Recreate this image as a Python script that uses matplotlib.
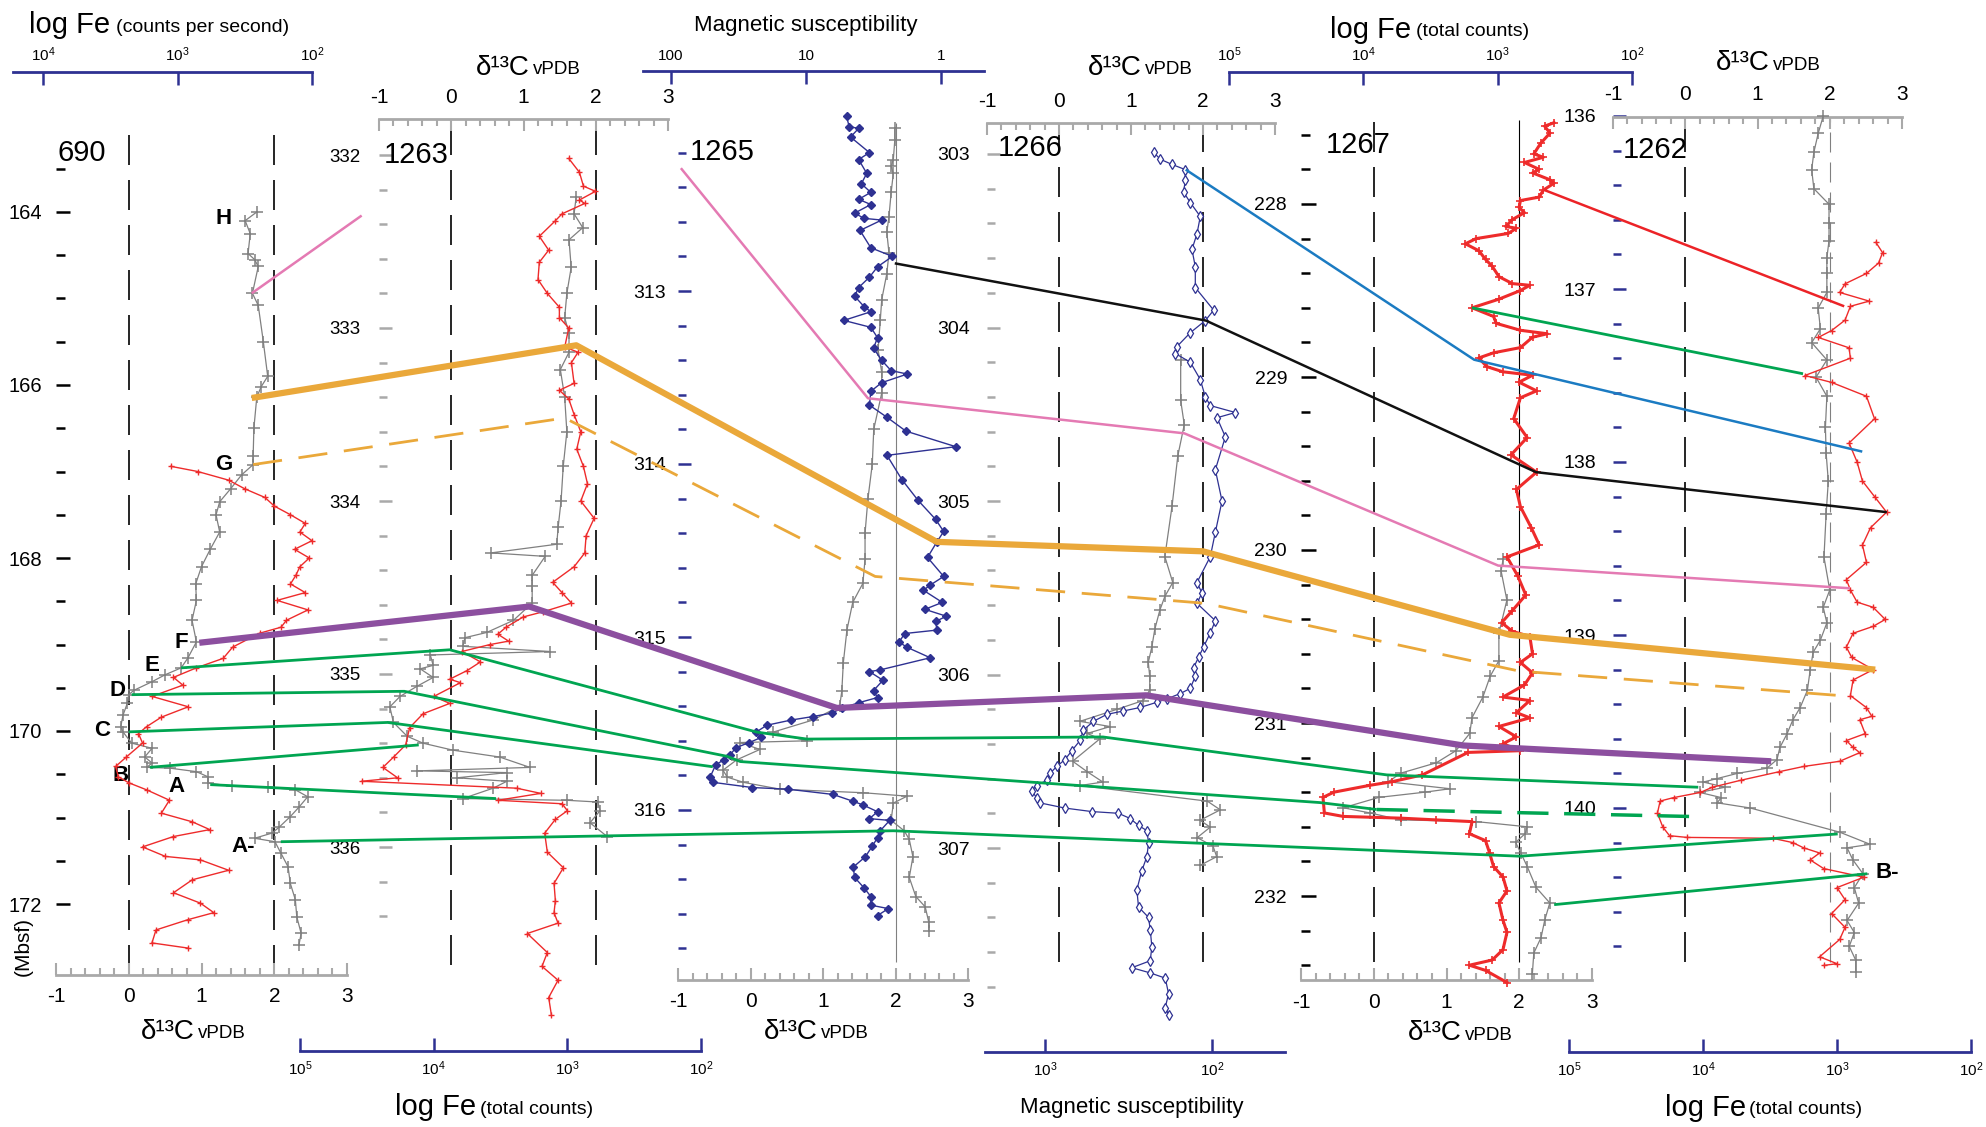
import numpy as np
import matplotlib
matplotlib.use("Agg")
import matplotlib.pyplot as plt
from matplotlib.ticker import FixedLocator, NullLocator, FuncFormatter

plt.rcParams['font.family'] = ['Liberation Sans Narrow', 'Liberation Sans', 'DejaVu Sans']
plt.rcParams['mathtext.fontset'] = 'custom'
plt.rcParams['mathtext.rm'] = 'Liberation Sans'
plt.rcParams['mathtext.it'] = 'Liberation Sans:italic'
plt.rcParams['mathtext.bf'] = 'Liberation Sans:bold'

# ---------------- data (depth in mbsf, d13C in permil vPDB, proxies as log10) ----------------
# Site 690
d690_c = [164.0, 164.1, 164.25, 164.48, 164.55, 164.63, 164.94, 165.08, 165.5, 165.9, 166.02, 166.14,
          166.5, 166.82, 166.92, 167.04, 167.2, 167.35, 167.5, 167.7, 167.9, 168.1, 168.3, 168.49,
          168.72, 168.97, 169.16, 169.27, 169.35, 169.43, 169.53, 169.58, 169.68, 169.82, 169.95,
          170.01, 170.14, 170.2, 170.3, 170.37, 170.42, 170.43, 170.47, 170.53, 170.6, 170.64, 170.65,
          170.68, 170.76, 170.88, 170.99, 171.11, 171.18, 171.24, 171.28, 171.41, 171.57, 171.76,
          171.95, 172.15, 172.34, 172.47]
c690 = [1.76, 1.60, 1.67, 1.64, 1.73, 1.78, 1.70, 1.78, 1.85, 1.91, 1.82, 1.76,
        1.72, 1.71, 1.71, 1.55, 1.40, 1.25, 1.20, 1.25, 1.12, 1.00, 0.92, 0.93,
        0.87, 0.93, 0.81, 0.72, 0.50, 0.32, 0.07, 0.00, -0.02, -0.08, -0.11,
        -0.08, 0.04, 0.32, 0.22, 0.32, 0.25, 0.57, 0.93, 1.09, 1.09, 1.42, 1.91,
        2.29, 2.46, 2.34, 2.22, 2.07, 1.97, 1.73, 2.01, 2.09, 2.19, 2.22,
        2.29, 2.31, 2.37, 2.34]
d690_fe = [166.94, 167.0, 167.1, 167.2, 167.3, 167.4, 167.5, 167.6, 167.7, 167.8, 167.9, 168.0,
           168.1, 168.2, 168.3, 168.4, 168.49, 168.6, 168.72, 168.8, 168.87, 169.03, 169.16, 169.27,
           169.38, 169.47, 169.6, 169.72, 169.84, 169.95, 170.03, 170.14, 170.3, 170.41, 170.53,
           170.6, 170.68, 170.8, 170.95, 171.05, 171.14, 171.22, 171.34, 171.45, 171.49, 171.61,
           171.72, 171.87, 171.99, 172.1, 172.18, 172.3, 172.45, 172.51]
fe690 = [3.05, 2.85, 2.62, 2.50, 2.35, 2.28, 2.16, 2.05, 2.09, 2.00, 2.13, 2.02,
         2.09, 2.12, 2.16, 2.05, 2.26, 2.03, 2.19, 2.23, 2.39, 2.59, 2.66, 2.86,
         3.03, 2.96, 3.19, 2.92, 3.12, 3.23, 3.29, 3.26, 3.38, 3.46, 3.44,
         3.36, 3.23, 3.06, 3.12, 2.89, 2.76, 3.03, 3.26, 3.09, 2.83, 2.62,
         2.89, 3.03, 2.83, 2.73, 2.92, 3.16, 3.19, 2.92]

# Site 1263
d1263_c = [332.24, 332.34, 332.42, 332.49, 332.65, 332.8, 332.94, 333.03, 333.14, 333.24, 333.4,
           333.6, 333.8, 334.0, 334.15, 334.25, 334.3, 334.32, 334.43, 334.49, 334.59, 334.69,
           334.76, 334.79, 334.84, 334.87, 334.89, 334.95, 334.97, 335.02, 335.07, 335.13, 335.19,
           335.28, 335.36, 335.4, 335.44, 335.48, 335.54, 335.56, 335.57, 335.6, 335.62, 335.66,
           335.72, 335.73, 335.74, 335.79, 335.86, 335.94]
c1263 = [1.73, 1.70, 1.82, 1.63, 1.66, 1.60, 1.57, 1.63, 1.63, 1.51, 1.57,
         1.60, 1.55, 1.52, 1.48, 1.46, 0.55, 1.30, 1.12, 1.12, 1.12, 0.86,
         0.49, 0.19, 0.16, 1.37, -0.29, -0.25, -0.43, -0.25, -0.47, -0.71, -0.85,
         -0.80, -0.61, -0.39, 0.02, 0.67, 1.09, -0.47, 0.77, 0.08, 0.77, 0.58,
         0.16, 1.60, 2.03, 2.06, 1.92, 2.16]
d1263_fe = [332.02, 332.1, 332.18, 332.21, 332.26, 332.28, 332.34, 332.38, 332.47, 332.55, 332.62,
            332.72, 332.8, 332.88, 332.94, 333.0, 333.11, 333.14, 333.2, 333.32, 333.36, 333.41,
            333.5, 333.6, 333.7, 333.8, 333.9, 334.0, 334.1, 334.2, 334.3, 334.38, 334.47, 334.53,
            334.59, 334.64, 334.67, 334.73, 334.77, 334.81, 334.83, 334.87, 334.93, 334.98, 335.03,
            335.05, 335.13, 335.17, 335.23, 335.31, 335.41, 335.48, 335.54, 335.6, 335.62, 335.66,
            335.69, 335.73, 335.75, 335.79, 335.84, 335.92, 336.03, 336.12, 336.21, 336.31, 336.38,
            336.44, 336.5, 336.61, 336.69, 336.77, 336.87, 336.97]
fe1263 = [2.99, 2.91, 2.88, 2.79, 2.91, 2.87, 3.04, 3.09, 3.21, 3.14, 3.21,
          3.22, 3.15, 3.06, 3.06, 2.99, 3.02, 2.92, 2.97, 2.95, 3.06, 2.99,
          2.95, 2.90, 2.93, 2.88, 2.85, 2.90, 2.80, 2.86, 2.87, 2.95, 3.11, 3.04,
          2.97, 3.18, 3.33, 3.46, 3.52, 3.44, 3.58, 3.79, 3.65, 3.75, 3.88,
          3.80, 4.00, 3.88, 4.08, 4.18, 4.21, 4.30, 4.38, 4.27, 4.54, 3.38,
          3.20, 3.52, 3.04, 3.00, 3.09, 3.17, 3.15, 3.03, 3.10, 3.09, 3.10,
          3.07, 3.30, 3.15, 3.19, 3.07, 3.14, 3.12]

# Site 1265
d1265_c = [312.06, 312.13, 312.24, 312.28, 312.32, 312.43, 312.57, 312.66, 312.78, 312.9, 313.05,
           313.17, 313.34, 313.47, 313.59, 313.8, 314.0, 314.2, 314.4, 314.55, 314.69, 314.8,
           314.96, 315.15, 315.31, 315.4, 315.48, 315.55, 315.6, 315.61, 315.65, 315.71, 315.77,
           315.81, 315.84, 315.88, 315.9, 315.92, 315.96, 316.06, 316.12, 316.17, 316.27, 316.39,
           316.5, 316.56, 316.65, 316.7]
c1265 = [1.99, 1.99, 1.97, 1.94, 1.97, 1.94, 1.91, 1.88, 1.91, 1.88, 1.81,
         1.79, 1.76, 1.81, 1.81, 1.70, 1.68, 1.62, 1.58, 1.58, 1.55, 1.41,
         1.33, 1.28, 1.26, 1.23, 0.86, 0.31, 0.78, -0.14, 0.13, -0.19, -0.38,
         -0.32, -0.10, 0.41, 1.55, 2.16, 1.97, 1.94, 2.12, 2.19, 2.24, 2.19,
         2.28, 2.41, 2.46, 2.46]
d1265_ms = [311.99, 312.05, 312.06, 312.11, 312.2, 312.24, 312.32, 312.38, 312.43, 312.47, 312.5,
            312.55, 312.58, 312.59, 312.65, 312.75, 312.8, 312.86, 312.92, 312.98, 313.03, 313.09,
            313.12, 313.17, 313.21, 313.27, 313.33, 313.4, 313.46, 313.48, 313.53, 313.58, 313.66,
            313.73, 313.81, 313.9, 313.95, 314.09, 314.21, 314.32, 314.39, 314.45, 314.54, 314.65,
            314.7, 314.73, 314.8, 314.84, 314.88, 314.91, 314.96, 314.98, 315.03, 315.06, 315.12,
            315.19, 315.2, 315.25, 315.31, 315.35, 315.38, 315.41, 315.44, 315.46, 315.48, 315.51,
            315.55, 315.58, 315.61, 315.64, 315.68, 315.71, 315.74, 315.81, 315.84, 315.87, 315.88,
            315.91, 315.95, 315.97, 316.01, 316.05, 316.06, 316.12, 316.16, 316.21, 316.27, 316.33,
            316.39, 316.45, 316.5, 316.55, 316.57, 316.61]
ms1265 = [0.70, 0.68, 0.61, 0.67, 0.53, 0.61, 0.55, 0.59, 0.52, 0.61, 0.52,
          0.64, 0.57, 0.44, 0.60, 0.52, 0.36, 0.47, 0.53, 0.61, 0.64, 0.57,
          0.52, 0.72, 0.52, 0.47, 0.50, 0.44, 0.37, 0.25, 0.44, 0.52, 0.53,
          0.40, 0.26, -0.11, 0.40, 0.29, 0.17, 0.04, -0.02, 0.03, 0.10, -0.02,
          0.08, 0.13, -0.01, 0.12, -0.04, 0.04, 0.03, 0.27, 0.31, 0.25, 0.08,
          0.45, 0.53, 0.43, 0.50, 0.47, 0.61, 0.73, 0.81, 0.95, 1.11, 1.29,
          1.37, 1.33, 1.42, 1.52, 1.56, 1.61, 1.67, 1.71, 1.69, 1.40, 1.13,
          0.80, 0.65, 0.58, 0.47, 0.53, 0.38, 0.45, 0.47, 0.51, 0.56, 0.65,
          0.64, 0.57, 0.52, 0.52, 0.39, 0.47]

# Site 1266
d1266_c = [304.19, 304.42, 304.56, 304.74, 305.03, 305.32, 305.47, 305.55, 305.63, 305.74, 305.84,
           305.93, 306.01, 306.09, 306.15, 306.2, 306.27, 306.3, 306.34, 306.37, 306.5, 306.56,
           306.62, 306.64, 306.73, 306.78, 306.84, 306.88, 306.94, 306.99, 307.05, 307.1]
c1266 = [1.69, 1.69, 1.74, 1.65, 1.57, 1.47, 1.58, 1.47, 1.40, 1.33, 1.29,
         1.24, 1.26, 1.26, 1.17, 0.81, 0.29, 0.71, 0.39, 0.57, 0.19, 0.39,
         0.61, 0.29, 2.06, 2.24, 1.96, 2.10, 1.92, 2.14, 2.19, 1.96]
d1266_ms = [302.99, 303.03, 303.06, 303.09, 303.15, 303.22, 303.28, 303.36, 303.46, 303.55, 303.65,
            303.77, 303.9, 303.96, 304.03, 304.11, 304.15, 304.2, 304.3, 304.4, 304.45, 304.49,
            304.52, 304.63, 304.82, 305.0, 305.18, 305.32, 305.47, 305.53, 305.59, 305.69, 305.76,
            305.84, 305.9, 305.96, 306.01, 306.08, 306.11, 306.14, 306.16, 306.19, 306.21, 306.23,
            306.27, 306.32, 306.38, 306.44, 306.49, 306.53, 306.57, 306.61, 306.64, 306.67, 306.71,
            306.74, 306.77, 306.79, 306.8, 306.83, 306.87, 306.9, 306.97, 307.05, 307.13, 307.24,
            307.34, 307.4, 307.47, 307.57, 307.65, 307.69, 307.72, 307.75, 307.84, 307.92, 307.96]
ms1266 = [2.35, 2.31, 2.24, 2.16, 2.16, 2.17, 2.13, 2.07, 2.09, 2.12, 2.10,
          2.10, 1.99, 2.04, 2.13, 2.21, 2.22, 2.13, 2.07, 2.04, 2.01, 1.86,
          1.97, 1.92, 1.98, 1.94, 1.98, 2.01, 2.09, 2.06, 2.09, 1.98, 2.01,
          2.05, 2.08, 2.11, 2.10, 2.13, 2.19, 2.27, 2.33, 2.43, 2.53, 2.63,
          2.71, 2.77, 2.79, 2.84, 2.88, 2.93, 2.97, 2.99, 3.05, 3.08, 3.05,
          3.03, 2.88, 2.72, 2.56, 2.49, 2.44, 2.39, 2.38, 2.39, 2.42, 2.45,
          2.44, 2.38, 2.37, 2.36, 2.37, 2.48, 2.37, 2.28, 2.26, 2.28, 2.26]

# Site 1267
d1267_c = [230.05, 230.12, 230.29, 230.48, 230.64, 230.73, 230.85, 230.97, 231.06, 231.16, 231.23,
           231.29, 231.34, 231.38, 231.4, 231.43, 231.49, 231.52, 231.56, 231.57, 231.6, 231.64,
           231.69, 231.75, 231.83, 231.95, 232.04, 232.14, 232.24, 232.33, 232.45]
c1267 = [1.78, 1.75, 1.83, 1.72, 1.72, 1.60, 1.50, 1.35, 1.32, 1.13, 0.86,
         0.37, 0.20, 1.05, 0.70, 0.07, -0.42, -0.05, 0.37, 1.41, 2.11, 2.08,
         1.95, 2.02, 2.11, 2.23, 2.42, 2.35, 2.30, 2.20, 2.18]
d1267_fe = [227.53, 227.55, 227.59, 227.65, 227.71, 227.73, 227.76, 227.8, 227.82, 227.86, 227.88,
            227.92, 227.96, 227.98, 228.02, 228.05, 228.09, 228.13, 228.14, 228.17, 228.2, 228.23,
            228.27, 228.32, 228.36, 228.42, 228.46, 228.47, 228.5, 228.55, 228.6, 228.65, 228.69,
            228.73, 228.75, 228.77, 228.83, 228.86, 228.89, 228.94, 228.97, 228.99, 229.03, 229.08,
            229.12, 229.24, 229.35, 229.45, 229.55, 229.65, 229.75, 229.87, 229.97, 230.04, 230.15,
            230.26, 230.35, 230.42, 230.47, 230.5, 230.6, 230.65, 230.71, 230.78, 230.85, 230.87,
            230.94, 230.97, 231.02, 231.08, 231.12, 231.16, 231.17, 231.3, 231.34, 231.36, 231.4,
            231.43, 231.52, 231.54, 231.55, 231.56, 231.57, 231.64, 231.68, 231.75, 231.83, 231.89,
            231.97, 232.04, 232.14, 232.21, 232.31, 232.37, 232.4, 232.43, 232.5]
fe1267 = [2.58, 2.65, 2.61, 2.68, 2.73, 2.66, 2.80, 2.69, 2.74, 2.61, 2.58,
          2.66, 2.69, 2.83, 2.84, 2.80, 2.89, 2.94, 2.86, 2.92, 3.16, 3.24,
          3.14, 3.09, 3.04, 2.99, 2.89, 2.76, 2.83, 2.99, 3.19, 3.03, 3.01,
          2.83, 2.63, 2.74, 2.83, 3.03, 3.14, 3.08, 2.96, 2.74, 2.84, 2.71,
          2.83, 2.88, 2.78, 2.90, 2.71, 2.86, 2.83, 2.75, 2.69, 2.93, 2.85,
          2.79, 2.89, 2.97, 2.89, 2.76, 2.74, 2.83, 2.74, 2.80, 2.96, 2.76,
          2.86, 2.76, 2.99, 2.86, 2.96, 2.83, 3.22, 3.56, 3.79, 3.95, 4.22,
          4.30, 4.29, 4.15, 3.72, 3.46, 3.19, 3.21, 3.09, 3.06, 3.03, 2.96,
          2.93, 2.99, 2.96, 2.93, 2.96, 3.04, 3.21, 3.09, 2.93]

# Site 1262
d1262_c = [136.0, 136.1, 136.21, 136.31, 136.42, 136.51, 136.62, 136.72, 136.82, 136.91, 137.02,
           137.11, 137.23, 137.31, 137.41, 137.51, 137.62, 137.8, 137.95, 138.11, 138.3, 138.55,
           138.74, 138.84, 138.93, 139.03, 139.1, 139.2, 139.32, 139.42, 139.49, 139.57, 139.65,
           139.72, 139.77, 139.8, 139.83, 139.85, 139.88, 139.91, 139.94, 139.97, 140.0, 140.14,
           140.21, 140.23, 140.3, 140.38, 140.46, 140.55, 140.65, 140.72, 140.8, 140.88, 140.95]
c1262 = [1.91, 1.84, 1.78, 1.75, 1.78, 1.99, 1.99, 1.99, 1.96, 1.96, 1.96,
         1.84, 1.87, 1.75, 1.96, 1.81, 1.96, 1.94, 1.95, 1.98, 1.95, 1.92,
         2.00, 1.91, 1.96, 1.87, 1.77, 1.73, 1.69, 1.59, 1.49, 1.41, 1.31,
         1.27, 1.13, 0.72, 0.44, 0.25, 0.55, 0.20, 0.50, 0.44, 0.90, 2.14,
         2.56, 2.24, 2.32, 2.46, 2.34, 2.40, 2.24, 2.34, 2.27, 2.36, 2.36]
d1262_fe = [136.73, 136.79, 136.85, 136.91, 136.97, 137.02, 137.07, 137.1, 137.18, 137.24, 137.28,
            137.34, 137.4, 137.5, 137.54, 137.62, 137.75, 137.89, 138.0, 138.11, 138.2, 138.29,
            138.38, 138.48, 138.58, 138.68, 138.74, 138.81, 138.84, 138.91, 138.95, 138.99, 139.07,
            139.13, 139.2, 139.26, 139.35, 139.42, 139.47, 139.49, 139.57, 139.61, 139.65, 139.68,
            139.73, 139.76, 139.79, 139.84, 139.88, 139.91, 139.94, 139.96, 140.03, 140.11, 140.16,
            140.17, 140.175, 140.2, 140.23, 140.26, 140.3, 140.35, 140.4, 140.46, 140.53, 140.61,
            140.69, 140.76, 140.86, 140.9, 140.91]
fe1262 = [2.71, 2.66, 2.69, 2.78, 2.94, 2.98, 2.76, 2.90, 2.94, 3.04, 3.14,
          2.91, 2.90, 3.24, 3.04, 2.78, 2.72, 2.91, 2.85, 2.81, 2.72, 2.63,
          2.75, 2.81, 2.78, 2.93, 2.90, 2.85, 2.73, 2.64, 2.73, 2.88, 2.93,
          2.89, 2.73, 2.88, 2.90, 2.78, 2.74, 2.83, 2.79, 2.93, 2.88, 2.83,
          2.98, 3.25, 3.43, 3.72, 3.93, 4.02, 4.22, 4.32, 4.34, 4.30, 4.25,
          4.12, 3.48, 3.33, 3.25, 3.13, 3.20, 3.10, 2.80, 3.00, 2.94, 3.04,
          2.94, 2.98, 3.13, 3.00, 3.10]

# depth tick marks (labelled / unlabelled)
dlab690 = [164, 166, 168, 170, 172]
dlab1263 = [332, 333, 334, 335, 336]
dlab1265 = [313, 314, 315, 316]
dlab1266 = [303, 304, 305, 306, 307]
dlab1267 = [228, 229, 230, 231, 232]
dlab1262 = [136, 137, 138, 139, 140]

# correlation tie points: (site, x in d13C units of that panel, depth)
tie_pink_a = [('690', 1.69, 164.94), ('1263', -1.24, 332.35)]
tie_pink_b = [('1265', -0.96, 312.29), ('1265', 1.62, 313.62), ('1266', 1.74, 304.61),
              ('1267', 1.71, 230.09), ('1262', 2.28, 138.73)]
tie_black = [('1265', 1.99, 312.84), ('1266', 2.04, 303.96), ('1267', 2.23, 229.55), ('1262', 2.79, 138.29)]
tie_blue = [('1266', 1.76, 303.09), ('1267', 1.38, 228.90), ('1262', 2.45, 137.94)]
tie_red = [('1267', 2.35, 227.92), ('1262', 2.20, 137.10)]
tie_green_top = [('1267', 1.35, 228.60), ('1262', 1.63, 137.49)]
tie_orange = [('690', 1.69, 166.15), ('1263', 1.73, 333.10), ('1265', 2.57, 314.45),
              ('1266', 2.00, 305.29), ('1267', 1.87, 230.49), ('1262', 2.63, 139.20)]
tie_orange_dash = [('690', 1.71, 166.92), ('1263', 1.57, 333.52), ('1265', 1.72, 314.65),
                   ('1266', 2.04, 305.59), ('1267', 2.00, 230.70), ('1262', 2.14, 139.35)]
tie_purple = [('690', 0.97, 168.98), ('1263', 1.08, 334.61), ('1265', 1.19, 315.41),
              ('1266', 1.21, 306.12), ('1267', 1.23, 231.13), ('1262', 1.19, 139.73)]
tie_E = [('690', 0.72, 169.27), ('1263', -0.02, 334.86), ('1265', 0.09, 315.55), ('1265', 0.78, 315.59),
         ('1266', 0.61, 306.36), ('1267', 0.18, 231.30), ('1262', 0.18, 139.88)]
tie_D = [('690', 0.04, 169.58), ('1263', -0.65, 335.10), ('1265', -0.32, 315.69), ('1265', -0.14, 315.72),
         ('1267', -0.74, 231.46), ('1267', 0.04, 231.50)]
tie_D_dash = [('1267', 0.04, 231.50), ('1262', 0.18, 140.05)]
tie_C = [('690', 0.00, 170.01), ('1263', -0.88, 335.28), ('1265', -0.52, 315.75)]
tie_B = [('690', 0.29, 170.42), ('1263', -0.45, 335.41)]
tie_A = [('690', 1.12, 170.62), ('1263', 0.62, 335.72)]
tie_Am = [('690', 2.09, 171.28), ('1265', 1.97, 316.12), ('1267', 2.01, 231.77), ('1262', 2.11, 140.15)]
tie_Bm = [('1267', 2.48, 232.05), ('1262', 2.52, 140.38)]

letters = [('H', '690', 1.30, 164.07), ('G', '690', 1.30, 166.92), ('F', '690', 0.72, 168.98),
           ('E', '690', 0.32, 169.24), ('D', '690', -0.16, 169.53), ('C', '690', -0.37, 169.99),
           ('B', '690', -0.11, 170.51), ('A', '690', 0.65, 170.64), ('A-', '690', 1.57, 171.34),
           ('B-', '1262', 2.79, 140.37)]

# ---------------- layout (pixels of the 1986x1127 canvas) ----------------
W, H = 1986, 1127
TOP, BOT = 10, 1120
NAVY = '#2e3192'
GREY = '#808080'
BARC = '#a9a9a9'
FERED = '#ee2b2b'

layout = {
    '690': dict(box=(0, 355), xm1=56, sx=72.75, d0=164, y0=212, sy=86.5, cside='bottom', cy=975,
                pside='top', py=72, pref=(4, 43), ps=134.5, pbar=(13, 312), pexp=[4, 3, 2], plab=None,
                dlab=dlab690, dstep=0.5, drange=(163.5, 172), dcol='black', dlen=(10, 6.5), dfs=14.5, dpad=10,
                refs=[(0, 'k', 'dash'), (2, 'k', 'dash')], refy=(127, 975), label=(58, 153)),
    '1263': dict(box=(255, 715), xm1=379, sx=72.25, d0=332, y0=155, sy=173, cside='top', cy=119,
                 pside='bottom', py=1051, pref=(5, 300), ps=133.7, pbar=(300, 701), pexp=[5, 4, 3, 2], plab=None,
                 dlab=dlab1263, dstep=0.2, drange=(332, 336.4), dcol=BARC, dlen=(9.5, 5.5), dfs=13.5, dpad=13,
                 refs=[(0, 'k', 'dash'), (2, 'k', 'dash')], refy=(131, 965), label=(384, 155)),
    '1265': dict(box=(620, 1000), xm1=678, sx=72.5, d0=313, y0=291, sy=173, cside='bottom', cy=980,
                 pside='top', py=71, pref=(2, 671), ps=135, pbar=(643, 984), pexp=[2, 1, 0],
                 plab=['100', '10', '1'],
                 dlab=dlab1265, dstep=0.2, drange=(312.2, 316.8), dcol=NAVY, dlen=(9.5, 5.5), dfs=14, dpad=9,
                 refs=[(2, GREY, 'solid')], refy=(123, 962), label=(690, 152)),
    '1266': dict(box=(945, 1300), xm1=987, sx=72, d0=303, y0=154, sy=173.5, cside='top', cy=123,
                 pside='bottom', py=1052, pref=(3, 1045), ps=167, pbar=(985, 1285), pexp=[3, 2], plab=None,
                 dlab=dlab1266, dstep=0.2, drange=(303.2, 307.8), dcol=BARC, dlen=(9.5, 6), dfs=14, dpad=12,
                 refs=[(0, 'k', 'dash'), (2, 'k', 'dash')], refy=(131, 962), label=(998, 148)),
    '1267': dict(box=(1215, 1645), xm1=1301, sx=72.75, d0=228, y0=204, sy=173, cside='bottom', cy=980,
                 pside='top', py=72, pref=(5, 1229), ps=134.3, pbar=(1229, 1632), pexp=[5, 4, 3, 2], plab=None,
                 dlab=dlab1267, dstep=0.2, drange=(227.6, 232.4), dcol='black', dlen=(11, 6.5), dfs=14, dpad=10,
                 refs=[(0, 'k', 'dash'), (2, 'k', 'solid')], refy=(120, 962), label=(1326, 145)),
    '1262': dict(box=(1555, 1985), xm1=1613, sx=72.25, d0=136, y0=116, sy=173, cside='top', cy=117,
                 pside='bottom', py=1052, pref=(5, 1569), ps=134, pbar=(1569, 1971), pexp=[5, 4, 3, 2], plab=None,
                 dlab=dlab1262, dstep=0.2, drange=(136.2, 140.8), dcol=NAVY, dlen=(9.5, 5.5), dfs=14, dpad=12,
                 refs=[(0, 'k', 'dash'), (2, GREY, 'dash')], refy=(117, 962), label=(1623, 150)),
}

fig = plt.figure(figsize=(W / 100, H / 100), dpi=100)
fig.patch.set_facecolor('white')
axes = {}
proxy_axes = {}


def setup_panel(site):
    g = layout[site]
    L, R = g['box']
    ax = fig.add_axes([L / W, 1 - BOT / H, (R - L) / W, (BOT - TOP) / H])
    ax2 = ax.twiny()
    vx = lambda x: -1 + (x - g['xm1']) / g['sx']
    dy = lambda y: g['d0'] + (y - g['y0']) / g['sy']
    k, xr = g['pref']
    pv = lambda x: 10 ** (k - (x - xr) / g['ps'])
    ax.set_xlim(vx(L), vx(R))
    ax.set_ylim(dy(BOT), dy(TOP))
    ax2.set_xscale('log')
    ax2.set_xlim(pv(L), pv(R))
    for a in (ax, ax2):
        a.patch.set_visible(False)
        for sp in a.spines.values():
            sp.set_visible(False)

    # depth scale
    sp = ax.spines['left']
    sp.set_visible(True)
    sp.set_color('none')
    sp.set_position(('data', -1))
    ax.yaxis.set_ticks_position('left')
    ax.yaxis.set_major_locator(FixedLocator(g['dlab']))
    allt = np.round(np.arange(g['drange'][0], g['drange'][1] + 1e-6, g['dstep']), 2)
    ax.yaxis.set_minor_locator(FixedLocator([t for t in allt if abs(t - round(t)) > 1e-6 or t not in g['dlab']]))
    ax.yaxis.set_major_formatter(FuncFormatter(lambda v, p: '%d' % round(v)))
    ax.tick_params(axis='y', which='major', direction='in', length=g['dlen'][0], width=1.8,
                   color=g['dcol'], labelsize=g['dfs'], pad=g['dpad'])
    ax.tick_params(axis='y', which='minor', direction='in', length=g['dlen'][1], width=1.8, color=g['dcol'])

    # d13C scale
    side = g['cside']
    sp = ax.spines[side]
    sp.set_visible(True)
    sp.set_position(('data', dy(g['cy'])))
    sp.set_bounds(-1, 3)
    sp.set_color(BARC)
    sp.set_linewidth(2.0)
    ax.xaxis.set_ticks_position(side)
    ax.set_xticks([-1, 0, 1, 2, 3])
    ax.xaxis.set_minor_locator(FixedLocator([round(t, 1) for t in np.arange(-1, 3.001, 0.2)
                                             if abs(t - round(t)) > 1e-6]))
    ax.xaxis.set_major_formatter(FuncFormatter(lambda v, p: '%d' % round(v)))
    ax.tick_params(axis='x', which='major', direction='in', length=8.5, width=1.5, color=BARC,
                   labelsize=15, pad=9)
    ax.tick_params(axis='x', which='minor', direction='in', length=5, width=1.5, color=BARC)

    # proxy (log) scale
    pside = g['pside']
    sp = ax2.spines[pside]
    sp.set_visible(True)
    sp.set_position(('data', dy(g['py'])))
    sp.set_bounds(pv(g['pbar'][0]), pv(g['pbar'][1]))
    sp.set_color(NAVY)
    sp.set_linewidth(2.0)
    ax2.xaxis.set_ticks_position(pside)
    ax2.set_xticks([10.0 ** e for e in g['pexp']])
    ax2.xaxis.set_minor_locator(NullLocator())
    if g['plab'] is not None:
        ax2.set_xticklabels(g['plab'])
    else:
        ax2.set_xticklabels([r'$10^{%d}$' % e for e in g['pexp']])
    ax2.tick_params(axis='x', which='major', direction='in', length=9.5, width=1.8, color=NAVY,
                    labelsize=11, pad=6)

    # reference lines
    for val, col, sty in g['refs']:
        if sty == 'dash':
            ls = (0, (18, 9))
            lw = 1.2 if col == 'k' else 0.8
        else:
            ls = '-'
            lw = 0.8
        ax.vlines([val], dy(g['refy'][1]), dy(g['refy'][0]), colors=col, linestyles=[ls], linewidth=lw,
                  zorder=1)

    ax.text(vx(g['label'][0]), dy(g['label'][1]), site, fontsize=21, ha='left', va='center', zorder=6)
    axes[site] = ax
    proxy_axes[site] = ax2
    return ax, ax2


for s in ['690', '1263', '1265', '1266', '1267', '1262']:
    setup_panel(s)

# ---------------- curves ----------------
grey_kw = dict(color=GREY, lw=0.9, marker='+', ms=9, mew=1.1, zorder=4)
fe_kw = dict(color=FERED, lw=1.0, marker='+', ms=5, mew=1.0, zorder=3)

axes['690'].plot(c690, d690_c, **grey_kw)
proxy_axes['690'].plot(10 ** np.array(fe690), d690_fe, **fe_kw)

axes['1263'].plot(c1263, d1263_c, **grey_kw)
proxy_axes['1263'].plot(10 ** np.array(fe1263), d1263_fe, **fe_kw)

axes['1265'].plot(c1265, d1265_c, **grey_kw)
proxy_axes['1265'].plot(10 ** np.array(ms1265), d1265_ms, color=NAVY, lw=1.0, marker='D', ms=4.5,
                        mfc=NAVY, mec=NAVY, zorder=3)

axes['1266'].plot(c1266, d1266_c, **grey_kw)
proxy_axes['1266'].plot(10 ** np.array(ms1266), d1266_ms, color=NAVY, lw=0.9, marker='d', ms=5,
                        mfc='white', mec=NAVY, mew=0.9, zorder=3)

axes['1267'].plot(c1267, d1267_c, **grey_kw)
proxy_axes['1267'].plot(10 ** np.array(fe1267), d1267_fe, color=FERED, lw=2.2, marker='+', ms=6,
                        mew=1.2, zorder=3)

axes['1262'].plot(c1262, d1262_c, **grey_kw)
proxy_axes['1262'].plot(10 ** np.array(fe1262), d1262_fe, **fe_kw)

for lab, site, v, d in letters:
    axes[site].text(v, d, lab, fontsize=16, fontweight='bold', ha='center', va='center',
                    family=['Liberation Sans', 'DejaVu Sans'], zorder=7)

# ---------------- titles ----------------
def ftext(x, y, s, **kw):
    fig.text(x / W, 1 - y / H, s, va='center', **kw)


def d13c_title(xc, y):
    ftext(xc + 3, y, 'δ¹³C', fontsize=20, ha='right')
    ftext(xc + 6, y + 2, 'vPDB', fontsize=13.5, ha='left')


def fe_title(x0, x1, y, rest):
    ftext(x0, y, 'log Fe', fontsize=21, ha='left')
    ftext(x1, y + 2, rest, fontsize=14, ha='left')


fe_title(29, 116, 25, '(counts per second)')
d13c_title(527, 68)
ftext(806, 26, 'Magnetic susceptibility', fontsize=16, ha='center')
d13c_title(1139, 68)
fe_title(1330, 1416, 30, '(total counts)')
d13c_title(1767, 63)

d13c_title(192, 1032)
fe_title(395, 480, 1107, '(total counts)')
d13c_title(815, 1032)
ftext(1132, 1107, 'Magnetic susceptibility', fontsize=16, ha='center')
d13c_title(1459, 1033)
fe_title(1665, 1749, 1108, '(total counts)')
fig.text(23 / W, 1 - 947 / H, '(Mbsf)', rotation=90, fontsize=15, ha='center', va='center')

# ---------------- correlation lines ----------------
ov = fig.add_axes([0, 0, 1, 1])
ov.set_xlim(0, W)
ov.set_ylim(0, H)
ov.axis('off')
ov.patch.set_visible(False)

ORANGE = '#eaa83a'
PURPLE = '#8c4f9f'
GREEN = '#00a551'
ties = [
    (tie_pink_a, '#e47ab3', 1.8, '-'),
    (tie_pink_b, '#e47ab3', 1.8, '-'),
    (tie_black, '#111111', 1.8, '-'),
    (tie_blue, '#1b7bc2', 1.8, '-'),
    (tie_red, '#ec2327', 1.8, '-'),
    (tie_green_top, GREEN, 2.0, '-'),
    (tie_orange, ORANGE, 4.5, '-'),
    (tie_orange_dash, ORANGE, 2.0, (0, (10.5, 6))),
    (tie_purple, PURPLE, 4.5, '-'),
    (tie_E, GREEN, 2.0, '-'),
    (tie_D, GREEN, 2.0, '-'),
    (tie_D_dash, GREEN, 2.5, (0, (9, 4.5))),
    (tie_C, GREEN, 2.0, '-'),
    (tie_B, GREEN, 2.0, '-'),
    (tie_A, GREEN, 2.0, '-'),
    (tie_Am, GREEN, 2.0, '-'),
    (tie_Bm, GREEN, 2.0, '-'),
]
for nodes, col, lw, ls in ties:
    pts = np.array([axes[s].transData.transform((v, d)) for s, v, d in nodes])
    ov.plot(pts[:, 0], pts[:, 1], color=col, lw=lw, ls=ls, solid_capstyle='butt', zorder=5)

fig.savefig('out.png', dpi=100)
